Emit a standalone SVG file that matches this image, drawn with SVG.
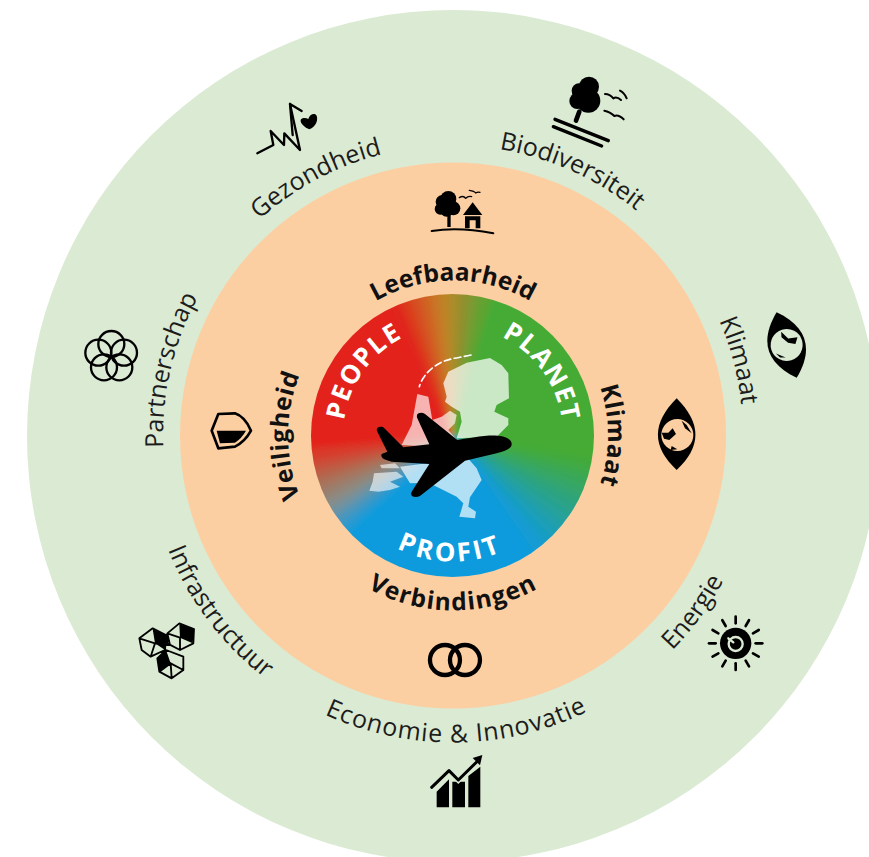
<svg xmlns="http://www.w3.org/2000/svg" xmlns:xlink="http://www.w3.org/1999/xlink" width="869" height="857" viewBox="0 0 869 857">
<style>
.o{font:25px "Open Sans","Noto Sans",sans-serif;fill:#1c1c1c;text-anchor:middle}
.i{font:bold 24.5px "Open Sans","Noto Sans",sans-serif;fill:#111;text-anchor:middle}
.w{font:bold 26px "Open Sans","Noto Sans",sans-serif;fill:#fff;text-anchor:middle;letter-spacing:1.5px}
.s{fill:none;stroke:#000;stroke-linecap:round;stroke-linejoin:round}
.k{fill:#000}
</style>
<defs>
<path id="t290" d="M163 435.5A290 290 0 0 1 743 435.5"/>
<path id="b307" d="M146 435.5A307 307 0 0 0 760 435.5"/>
<path id="t155" d="M298 435.5A155 155 0 0 1 608 435.5"/>
<path id="t165" d="M288 435.5A165 165 0 0 1 618 435.5"/>
<path id="b175" d="M278 435.5A175 175 0 0 0 628 435.5"/>
<path id="t110" d="M343 435.5A110 110 0 0 1 563 435.5"/>
<path id="b126" d="M327 435.5A126 126 0 0 0 579 435.5"/>
<path id="w" d="M0 0L-1 -175L15 -175Z"/>
<clipPath id="cc"><circle cx="452.5" cy="435.5" r="141.5"/></clipPath>
<filter id="bl" x="-10%" y="-10%" width="120%" height="120%"><feGaussianBlur stdDeviation="3"/></filter>
<path id="ray" d="M0 -60V-80"/>
</defs>
<rect width="869" height="857" fill="#fff"/>
<circle id="ring-outer" cx="453" cy="436" r="426" fill="#dbead2"/>
<circle id="ring-middle" cx="453" cy="435.5" r="273" fill="#fccfa3"/>
<g id="core" clip-path="url(#cc)">
<g filter="url(#bl)" transform="translate(452.5 435.5)">
<polygon points="0,0 -297,42 -300,-300 -127,-272" fill="#e3231b"/>
<polygon points="0,0 78,-290 300,-300 295,52" fill="#45ab35"/>
<polygon points="0,0 181,240 0,300 -223,201" fill="#0f9bdd"/>
<use xlink:href="#w" transform="rotate(-25)" fill="#e0281c"/>
<use xlink:href="#w" transform="rotate(-21)" fill="#dc3a1d"/>
<use xlink:href="#w" transform="rotate(-17)" fill="#d64f20"/>
<use xlink:href="#w" transform="rotate(-13)" fill="#d06223"/>
<use xlink:href="#w" transform="rotate(-9)" fill="#c97526"/>
<use xlink:href="#w" transform="rotate(-5)" fill="#bd8428"/>
<use xlink:href="#w" transform="rotate(-1)" fill="#a98d2c"/>
<use xlink:href="#w" transform="rotate(3)" fill="#918f2e"/>
<use xlink:href="#w" transform="rotate(7)" fill="#7a9a30"/>
<use xlink:href="#w" transform="rotate(11)" fill="#60a332"/>
<use xlink:href="#w" transform="rotate(100)" fill="#43aa3d"/>
<use xlink:href="#w" transform="rotate(104)" fill="#3da94d"/>
<use xlink:href="#w" transform="rotate(108)" fill="#39a75c"/>
<use xlink:href="#w" transform="rotate(112)" fill="#34a66b"/>
<use xlink:href="#w" transform="rotate(116)" fill="#2fa47a"/>
<use xlink:href="#w" transform="rotate(120)" fill="#2aa389"/>
<use xlink:href="#w" transform="rotate(124)" fill="#25a298"/>
<use xlink:href="#w" transform="rotate(128)" fill="#20a0a7"/>
<use xlink:href="#w" transform="rotate(132)" fill="#1b9fb6"/>
<use xlink:href="#w" transform="rotate(136)" fill="#179dc5"/>
<use xlink:href="#w" transform="rotate(140)" fill="#129cd3"/>
<use xlink:href="#w" transform="rotate(228)" fill="#2a99cf"/>
<use xlink:href="#w" transform="rotate(232)" fill="#4c96bb"/>
<use xlink:href="#w" transform="rotate(236)" fill="#6f92a0"/>
<use xlink:href="#w" transform="rotate(240)" fill="#8a8c85"/>
<use xlink:href="#w" transform="rotate(244)" fill="#98806f"/>
<use xlink:href="#w" transform="rotate(248)" fill="#a8735c"/>
<use xlink:href="#w" transform="rotate(252)" fill="#b8624a"/>
<use xlink:href="#w" transform="rotate(256)" fill="#c94f3a"/>
<use xlink:href="#w" transform="rotate(260)" fill="#d83a2a"/>
</g>
</g>
<g id="map" transform="translate(300 290) scale(.3333)">
<path fill="#fff" fill-opacity=".72" d="M430 280L445 245L500 218L570 204L605 225L625 250L627 325L590 345L583 365L625 385L625 405L590 440L470 445L485 395L480 365L455 350L435 335L440 320Z"/>
<path fill="#fff" fill-opacity=".66" d="M352 312L385 320L397 390L425 380L450 362L470 375L465 400L445 420L470 450L400 470L305 465L335 405Z"/>
<path fill="#fff" fill-opacity=".68" d="M500 500L530 535L545 570L510 622L505 650L528 665L525 685L478 680L490 640L470 620L410 590L385 578L330 580L300 530L380 520Z"/>
<path fill="#fff" fill-opacity=".6" d="M222 550L290 545L310 560L270 575L300 590L270 600L235 605L208 602L218 575ZM240 525L285 520L300 535L245 535Z"/>
<path fill="none" stroke="#fff" stroke-width="5" stroke-dasharray="20 11" stroke-linecap="round" d="M513 195C470 205 440 205 410 225C385 240 365 265 358 290"/>
</g>
<g id="plane" transform="translate(300 290) scale(.3333)">
<path class="k" d="M635 460C630 440 600 435 560 437C530 440 500 445 472 450L375 372C365 365 345 368 352 385L388 463L310 472L250 412C240 408 225 412 232 425L262 485L245 492C240 505 255 510 275 515L388 522L335 605C328 620 345 625 360 618L495 512L590 490C620 482 637 475 635 460Z"/>
</g>
<g id="people"><text class="w" transform="rotate(-54.5 453 435.5)"><textPath xlink:href="#t110" startOffset="50%">PEOPLE</textPath></text></g>
<g id="planet"><text class="w" transform="rotate(54.6 453 435.5)"><textPath xlink:href="#t110" startOffset="50%">PLANET</textPath></text></g>
<g id="profit"><text class="w" style="letter-spacing:3px" transform="rotate(1.5 453 435.5)"><textPath xlink:href="#b126" startOffset="50%">PROFIT</textPath></text></g>

<g id="leefbaarheid"><text class="i"><textPath xlink:href="#t155" startOffset="50%">Leefbaarheid</textPath></text>
<g transform="translate(425 185) scale(.3333)">
<circle class="k" cx="70" cy="42" r="24"/><circle class="k" cx="52" cy="50" r="20"/><circle class="k" cx="46" cy="72" r="17"/><circle class="k" cx="85" cy="70" r="21"/><circle class="k" cx="65" cy="75" r="20"/>
<rect class="k" x="67" y="90" width="10" height="36"/>
<polygon class="k" points="143,52 172,90 114,90"/>
<path class="k" fill-rule="evenodd" d="M120 94H166V130H120ZM134 106V130H152V106Z"/>
<path class="s" stroke-width="6" d="M20 138Q100 124 205 145"/>
<path class="s" stroke-width="4" d="M103 38Q115 30 122 40Q130 32 140 35M133 16Q148 18 152 24Q158 20 165 22"/>
</g></g>
<g id="veiligheid"><text class="i" style="letter-spacing:.5px" transform="rotate(-90 453 435.5)"><textPath xlink:href="#t165" startOffset="50%">Veiligheid</textPath></text>
<g transform="translate(70 300) scale(.3333)">
<path class="s" stroke-width="8" d="M445 342L495 340Q525 350 543 392Q525 425 495 440L445 445L425 392Z"/>
<path class="k" d="M440 392L528 392Q515 415 495 428L450 430Z"/>
</g></g>
<g id="klimaat"><text class="i" style="letter-spacing:.5px" transform="rotate(90 453 435.5)"><textPath xlink:href="#t155" startOffset="50%">Klimaat</textPath></text>
<g transform="translate(640 300) scale(.3333)">
<path class="k" d="M110 295C35 370 35 440 110 510C185 440 185 370 110 295Z"/>
<circle cx="112" cy="405" r="48" fill="#fccfa3"/>
<path class="k" d="M65 398L85 398L98 385L108 402L88 420L72 416ZM125 362L140 375L155 400L135 385ZM95 438L112 448L92 450Z"/>
</g></g>
<g id="verbindingen"><text class="i" style="letter-spacing:1.2px"><textPath xlink:href="#b175" startOffset="50%">Verbindingen</textPath></text>
<g transform="translate(120 600) scale(.3333)">
<circle class="s" stroke-width="13" cx="975" cy="180" r="45"/><circle class="s" stroke-width="13" cx="1035" cy="180" r="45"/>
</g></g>

<g id="gezondheid"><text class="o" transform="rotate(-28 453 435.5)"><textPath xlink:href="#t290" startOffset="50%">Gezondheid</textPath></text>
<g transform="translate(250 95) scale(.3333)">
<path class="s" stroke-width="7" d="M22 175L70 150L62 108L102 150L103 115L150 165L120 27L155 48"/>
<path class="s" stroke-width="7" d="M120 27L128 120"/>
<path class="k" d="M178 103C165 98 150 85 152 75C155 68 168 68 175 72C178 58 195 52 200 62C205 75 198 95 178 103Z"/>
</g></g>
<g id="biodiversiteit"><text class="o" transform="rotate(24.2 453 435.5)"><textPath xlink:href="#t290" startOffset="50%">Biodiversiteit</textPath></text>
<g transform="translate(545 70) scale(.3333)">
<circle class="k" cx="132" cy="50" r="30"/><circle class="k" cx="102" cy="62" r="22"/><circle class="k" cx="97" cy="93" r="24"/><circle class="k" cx="130" cy="92" r="36"/><circle class="k" cx="110" cy="75" r="28"/>
<path class="s" stroke-width="14" stroke-linecap="butt" d="M103 125L93 152"/>
<path class="s" stroke-width="10" stroke-linecap="butt" d="M30 148L190 212M25 170L170 228"/>
<path class="s" stroke-width="6" d="M180 72Q195 72 205 85Q215 78 228 90M225 62Q238 68 245 85M178 122Q195 125 208 138Q220 132 236 148"/>
</g></g>
<g id="klimaat-outer"><text class="o" transform="rotate(75.3 453 435.5)"><textPath xlink:href="#t290" startOffset="50%">Klimaat</textPath></text>
<g transform="translate(640 300) scale(.3333) rotate(-17 440 135)">
<path class="k" d="M440 32C365 100 365 170 440 238C515 170 515 100 440 32Z"/>
<circle cx="440" cy="135" r="48" fill="#dbead2"/>
<path class="k" d="M436 92L450 118L478 122L466 140L446 130L432 108ZM402 150L426 170L410 165Z"/>
</g></g>
<g id="energie"><text class="o" transform="rotate(-53.7 453 435.5)"><textPath xlink:href="#b307" startOffset="50%">Energie</textPath></text>
<g transform="translate(700 610) scale(.3333)">
<circle class="k" cx="107" cy="100" r="47"/>
<circle fill="none" style="stroke:#dbead2" stroke-width="7" cx="107" cy="102" r="21"/>
<path style="stroke:#dbead2" fill="none" stroke-width="7" stroke-linecap="round" d="M85 85L100 97"/>
<g transform="translate(107 100)" class="s" stroke-width="8">
<use xlink:href="#ray" transform="rotate(0)"/><use xlink:href="#ray" transform="rotate(30)"/><use xlink:href="#ray" transform="rotate(60)"/><use xlink:href="#ray" transform="rotate(90)"/><use xlink:href="#ray" transform="rotate(120)"/><use xlink:href="#ray" transform="rotate(150)"/><use xlink:href="#ray" transform="rotate(180)"/><use xlink:href="#ray" transform="rotate(210)"/><use xlink:href="#ray" transform="rotate(240)"/><use xlink:href="#ray" transform="rotate(270)"/><use xlink:href="#ray" transform="rotate(300)"/><use xlink:href="#ray" transform="rotate(330)"/>
</g>
</g></g>
<g id="economie"><text class="o" style="letter-spacing:.9px" transform="rotate(-.7 453 435.5)"><textPath xlink:href="#b307" startOffset="50%">Economie &amp; Innovatie</textPath></text>
<g transform="translate(425 750) scale(.3333)">
<path class="k" d="M35 125L72 88V172H35ZM82 95L120 95V172H82ZM130 78L166 50V172H130Z"/>
<path fill="none" stroke="#dbead2" stroke-width="17" d="M20 112L72 62L100 90L155 36"/>
<path class="s" stroke-width="9" stroke-linecap="butt" d="M20 112L72 62L100 90L155 36"/>
<polygon class="k" points="143,24 172,15 165,46"/>
</g></g>
<g id="infrastructuur"><text class="o" transform="rotate(53 453 435.5)"><textPath xlink:href="#b307" startOffset="50%">Infrastructuur</textPath></text>
<g transform="translate(130 615) scale(.3333)">
<path class="k" d="M68 42L108 60L105 105L75 85ZM148 27L192 42L188 85L150 68ZM108 105L122 145L88 170L82 130Z"/>
<path class="s" stroke-width="5.5" d="M28 70L68 40L108 60L105 105L62 125L35 105ZM28 70L75 85L62 125M75 85L105 60M112 55L148 25L192 42L190 85L150 105L112 85ZM112 55L150 68L150 105M150 68L190 42M112 55L120 90L75 85M82 130L108 105L160 125L160 165L125 190L88 170ZM82 130L88 170M122 145L160 165M122 145L88 170M122 145L125 190"/>
</g></g>
<g id="partnerschap"><text class="o" transform="rotate(-77 453 435.5)"><textPath xlink:href="#t290" startOffset="50%">Partnerschap</textPath></text>
<g transform="translate(70 300) scale(.3333)" class="s" stroke-width="7">
<circle cx="124" cy="132" r="39"/><circle cx="162" cy="158" r="39"/><circle cx="148" cy="202" r="39"/><circle cx="102" cy="202" r="39"/><circle cx="85" cy="158" r="39"/>
</g></g>
</svg>
